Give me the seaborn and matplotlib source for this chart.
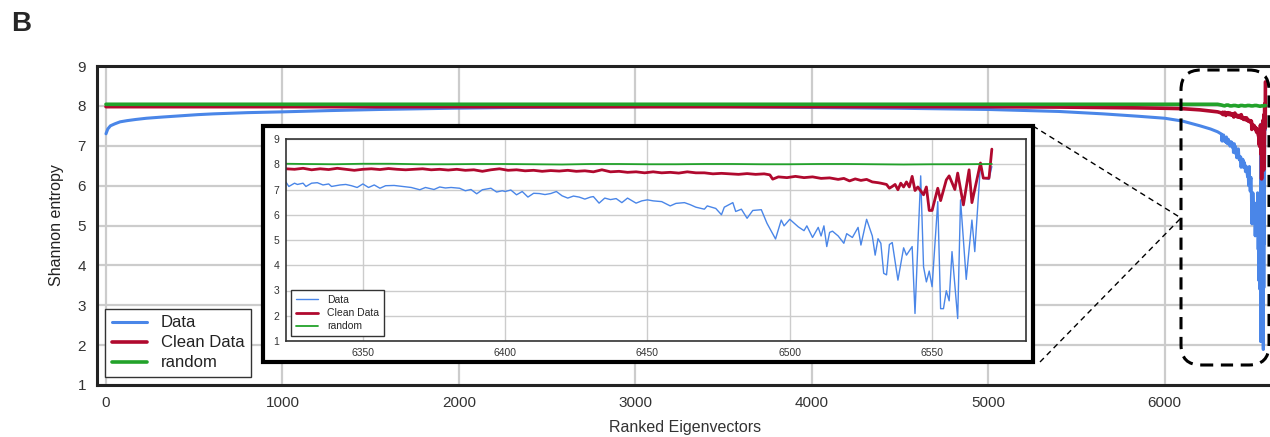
import matplotlib
matplotlib.use("Agg")
import numpy as np
import pandas as pd
import matplotlib.pyplot as plt
from matplotlib.patches import Rectangle, FancyBboxPatch
from matplotlib.lines import Line2D
import seaborn as sns

# coarse readings of the full range (0 .. 6300)
main_x = [0, 10, 25, 50, 80, 120, 170, 230, 320, 420, 520, 610, 800, 1000, 1250, 1550,
          1950, 2300, 2700, 3100, 3500, 4000, 4500, 5000, 5400, 5650, 5850, 6000, 6100,
          6200, 6260, 6300]
main_data = [7.30, 7.42, 7.50, 7.55, 7.60, 7.63, 7.66, 7.69, 7.72, 7.75, 7.78, 7.80, 7.83,
             7.85, 7.88, 7.91, 7.94, 7.96, 7.97, 7.98, 7.98, 7.96, 7.94, 7.91, 7.86, 7.80,
             7.74, 7.69, 7.62, 7.50, 7.42, 7.35]
main_clean = [7.98, 7.98, 7.98, 7.98, 7.98, 7.98, 7.98, 7.98, 7.98, 7.98, 7.98, 7.98, 7.98,
              7.98, 7.98, 7.98, 7.98, 7.98, 7.98, 7.98, 7.98, 7.98, 7.98, 7.98, 7.97, 7.96,
              7.95, 7.94, 7.93, 7.90, 7.87, 7.85]
main_random = [8.04, 8.04, 8.04, 8.04, 8.04, 8.04, 8.04, 8.04, 8.04, 8.04, 8.04, 8.04, 8.04,
               8.04, 8.04, 8.04, 8.04, 8.04, 8.04, 8.04, 8.04, 8.04, 8.04, 8.04, 8.04, 8.04,
               8.04, 8.04, 8.04, 8.04, 8.04, 8.04]

# tail readings (6323 .. 6571), taken from the zoomed inset
tail_x_data = [6323, 6324, 6326, 6327, 6329, 6330, 6332, 6334, 6336, 6338, 6339, 6342, 6344,
               6346, 6348, 6350, 6352, 6354, 6356, 6358, 6361, 6364, 6367, 6370, 6372, 6375,
               6377, 6379, 6381, 6384, 6386, 6388, 6390, 6392, 6395, 6397, 6399, 6400, 6402,
               6404, 6406, 6408, 6410, 6412, 6414, 6416, 6418, 6420, 6422, 6424, 6426, 6428,
               6430, 6431, 6433, 6435, 6437, 6439, 6441, 6443, 6446, 6448, 6450, 6452, 6455,
               6458, 6460, 6463, 6465, 6467, 6470, 6471, 6474, 6476, 6477, 6480, 6481, 6483,
               6485, 6487, 6490, 6492, 6495, 6497, 6498, 6500, 6502, 6503, 6505, 6506, 6508,
               6510, 6511, 6512, 6513, 6514, 6515, 6517, 6519, 6520, 6522, 6524, 6525, 6527,
               6529, 6530, 6531, 6532, 6533, 6534, 6535, 6536, 6538, 6540, 6541, 6543, 6544,
               6546, 6547, 6548, 6549, 6550, 6552, 6553, 6554, 6555, 6556, 6557, 6559, 6560,
               6562, 6564, 6565, 6567, 6568, 6570, 6571]
tail_data = [7.29, 7.12, 7.25, 7.20, 7.25, 7.12, 7.25, 7.27, 7.18, 7.22, 7.12, 7.18, 7.20,
             7.15, 7.08, 7.22, 7.08, 7.18, 7.05, 7.15, 7.16, 7.12, 7.08, 6.99, 7.08, 7.00,
             7.10, 7.06, 7.08, 7.05, 6.95, 7.00, 6.83, 6.99, 7.05, 6.90, 6.95, 6.92, 6.98,
             6.79, 6.92, 6.70, 6.85, 6.84, 6.80, 6.84, 6.92, 6.75, 6.66, 6.74, 6.70, 6.62,
             6.70, 6.72, 6.46, 6.66, 6.60, 6.64, 6.48, 6.66, 6.46, 6.55, 6.59, 6.55, 6.52,
             6.35, 6.45, 6.48, 6.40, 6.30, 6.22, 6.35, 6.25, 6.00, 6.30, 6.48, 6.13, 6.22,
             5.86, 6.17, 6.20, 5.66, 5.04, 5.79, 5.56, 5.82, 5.62, 5.52, 5.37, 5.56, 5.10,
             5.50, 5.16, 5.56, 4.74, 5.30, 5.35, 5.16, 4.87, 5.25, 5.10, 5.50, 4.80, 5.82,
             5.16, 4.40, 5.05, 4.87, 3.68, 3.62, 4.82, 4.90, 3.41, 4.69, 4.40, 4.74, 2.09,
             7.54, 3.94, 3.34, 3.77, 3.15, 6.52, 2.28, 2.28, 2.99, 2.59, 4.54, 1.89, 6.59,
             3.44, 5.79, 4.54, 7.98, 7.45, 7.40, 7.91]

tail_x_clean = [6323, 6326, 6329, 6332, 6335, 6338, 6341, 6344, 6347, 6350, 6353, 6356, 6359,
                6362, 6365, 6368, 6371, 6374, 6377, 6380, 6383, 6386, 6389, 6392, 6395, 6398,
                6401, 6404, 6407, 6410, 6413, 6416, 6419, 6422, 6425, 6428, 6431, 6434, 6437,
                6440, 6443, 6446, 6449, 6452, 6455, 6458, 6461, 6464, 6467, 6470, 6473, 6476,
                6479, 6482, 6485, 6488, 6491, 6493, 6494, 6496, 6499, 6502, 6505, 6508, 6511,
                6514, 6517, 6519, 6521, 6523, 6525, 6527, 6529, 6531, 6532, 6534, 6535, 6536,
                6537, 6538, 6539, 6540, 6541, 6542, 6543, 6544, 6545, 6547, 6548, 6549, 6550,
                6552, 6553, 6555, 6556, 6558, 6559, 6561, 6563, 6564, 6567, 6568, 6570, 6571]
tail_clean = [7.82, 7.80, 7.84, 7.78, 7.82, 7.79, 7.84, 7.80, 7.76, 7.80, 7.82, 7.79, 7.83,
              7.80, 7.78, 7.80, 7.82, 7.78, 7.80, 7.77, 7.80, 7.76, 7.78, 7.72, 7.78, 7.82,
              7.76, 7.78, 7.74, 7.76, 7.72, 7.75, 7.73, 7.76, 7.72, 7.74, 7.70, 7.78, 7.70,
              7.72, 7.68, 7.70, 7.66, 7.70, 7.66, 7.68, 7.65, 7.70, 7.66, 7.66, 7.62, 7.64,
              7.62, 7.60, 7.63, 7.60, 7.62, 7.58, 7.41, 7.50, 7.47, 7.52, 7.47, 7.50, 7.44,
              7.46, 7.40, 7.44, 7.34, 7.42, 7.36, 7.40, 7.30, 7.27, 7.25, 7.20, 7.05, 7.12,
              7.20, 6.99, 7.25, 7.10, 7.30, 7.10, 7.52, 6.96, 7.10, 6.79, 7.10, 6.17, 6.17,
              7.05, 6.56, 7.38, 7.54, 7.00, 7.65, 6.39, 7.78, 6.48, 8.05, 7.45, 7.45, 8.60]

tail_x_random = [6323, 6330, 6340, 6350, 6360, 6370, 6380, 6390, 6400, 6410, 6420, 6430, 6440,
                 6450, 6460, 6470, 6480, 6490, 6500, 6510, 6520, 6530, 6540, 6550, 6560, 6571]
tail_random = [8.02, 8.01, 8.00, 8.02, 8.02, 8.00, 8.00, 8.01, 8.01, 8.00, 7.99, 8.01, 8.01,
               8.00, 8.00, 8.01, 8.01, 8.00, 8.00, 8.01, 8.01, 8.00, 7.99, 8.00, 8.00, 8.01]

labels = ["Data", "Clean Data", "random"]
colors = ["#4a86e8", "#b0092e", "#22a22a"]

series = [
    (main_x + tail_x_data, main_data + tail_data),
    (main_x + tail_x_clean, main_clean + tail_clean),
    (main_x + tail_x_random, main_random + tail_random),
]

sns.set_theme(style="whitegrid")
plt.rcParams["font.family"] = ["Liberation Sans", "DejaVu Sans"]

W, H = 1270, 437
fig = plt.figure(figsize=(12.7, 4.37), dpi=100)
fig.patch.set_facecolor("white")

# main panel
ax = fig.add_axes([97 / W, 1 - 385 / H, 1176 / W, 319 / H], zorder=0)
main_lw = [2.2, 2.6, 2.6]
for (xs, ys), lab, col, lw in zip(series, labels, colors, main_lw):
    sns.lineplot(x=xs, y=ys, ax=ax, color=col, lw=lw, label=lab,
                 estimator=None, sort=False)
ax.set_xlim(-51, 6614)
ax.set_ylim(1, 9)
ax.set_xticks(range(0, 7000, 1000))
ax.set_yticks(range(1, 10))
ax.grid(True, color="#cccccc", lw=1.6)
for s in ax.spines.values():
    s.set_color("#222222")
    s.set_linewidth(2.2)
ax.tick_params(length=0, labelsize=11, colors="#333333", pad=8)
ax.set_xlabel("Ranked Eigenvectors", fontsize=11.5, color="#333333", labelpad=7)
ax.set_ylabel("Shannon entropy", fontsize=11.5, color="#222222", labelpad=10)
leg = ax.legend(loc="lower left", bbox_to_anchor=(8 / 1176, 8 / 319), borderaxespad=0,
                fontsize=12, handlelength=2.1, handletextpad=0.85, labelspacing=0.3,
                borderpad=0.4, fancybox=False, framealpha=1, edgecolor="#333333")
leg.get_frame().set_linewidth(1.0)
for t in leg.get_texts():
    t.set_color("#222222")

# inset frame (outer box)
fig.add_artist(Rectangle((263 / W, 1 - 362 / H), 770 / W, 236 / H,
                         transform=fig.transFigure, facecolor="white",
                         edgecolor="black", lw=3, zorder=2))

# inset panel
axin = fig.add_axes([286 / W, 1 - 341 / H, 740 / W, 202 / H], zorder=3)
in_lw = [1.0, 2.0, 1.3]
for (xs, ys), lab, col, lw in zip(series, labels, colors, in_lw):
    sns.lineplot(x=xs, y=ys, ax=axin, color=col, lw=lw, label=lab,
                 estimator=None, sort=False)
axin.set_xlim(6323, 6583)
axin.set_ylim(1, 9)
axin.set_xticks([6350, 6400, 6450, 6500, 6550])
axin.set_yticks(range(1, 10))
axin.grid(True, color="#cccccc", lw=1.0)
for s in axin.spines.values():
    s.set_color("#333333")
    s.set_linewidth(1.2)
axin.tick_params(length=0, labelsize=7.5, colors="#333333", pad=5)
axin.set_xlabel("")
axin.set_ylabel("")
leg2 = axin.legend(loc="lower left", bbox_to_anchor=(5 / 740, 5 / 202), borderaxespad=0,
                   fontsize=7.5, handlelength=2.1, handletextpad=0.9, labelspacing=0.3,
                   borderpad=0.45, fancybox=False, framealpha=1, edgecolor="#333333")
leg2.get_frame().set_linewidth(1.0)

# dashed zoom marker and connecting lines (figure inches)
tr = fig.dpi_scale_trans
fig.add_artist(FancyBboxPatch((11.81, 0.72), 0.88, 2.95,
                              boxstyle="round,pad=0,rounding_size=0.2",
                              transform=tr, fill=False, edgecolor="black",
                              lw=2.2, linestyle=(0, (4, 2.5)), zorder=4))
fig.add_artist(Line2D([10.33, 11.81], [4.37 - 1.26, 4.37 - 2.18], transform=tr,
                      color="black", lw=1.0, linestyle=(0, (4, 3)), zorder=4))
fig.add_artist(Line2D([10.40, 11.81], [4.37 - 3.62, 4.37 - 2.18], transform=tr,
                      color="black", lw=1.0, linestyle=(0, (4, 3)), zorder=4))

fig.text(0.009, 0.975, "B", fontsize=20, fontweight="bold", va="top", ha="left",
         family=["Liberation Sans", "DejaVu Sans"])

fig.savefig("out.png", dpi=100, facecolor="white")
